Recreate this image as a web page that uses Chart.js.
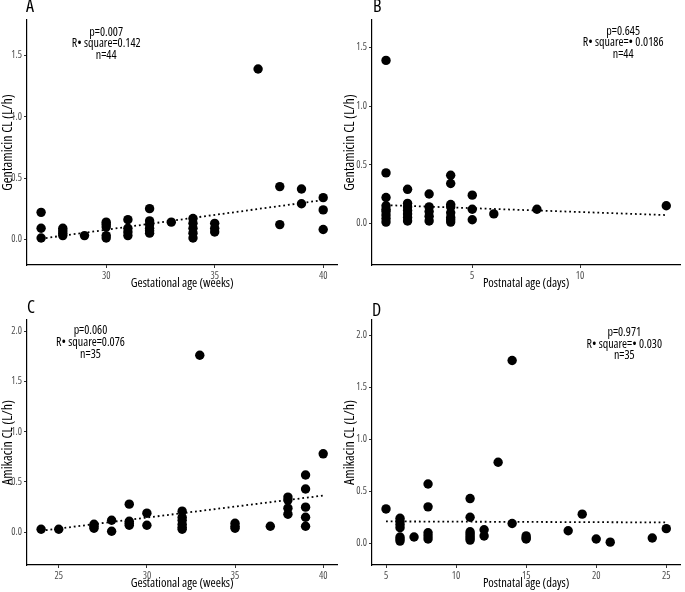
<!DOCTYPE html>
<html>
<head>
<meta charset="utf-8">
<script src="https://cdn.jsdelivr.net/npm/chart.js@4.4.1/dist/chart.umd.min.js"></script>
<style>
  body { margin: 0; background: #fff; width: 685px; height: 592px; position: relative; overflow: hidden;
         font-family: "Open Sans", sans-serif; font-stretch: condensed; }
  .box { position: absolute; }
  .tag { position: absolute; font-size: 18px; line-height: 18px; color: #000; }
</style>
</head>
<body>
<div class="box" style="left:0;top:0"><canvas id="chartA" width="342" height="292"></canvas></div>
<div class="box" style="left:342px;top:0"><canvas id="chartB" width="343" height="292"></canvas></div>
<div class="box" style="left:0;top:292px"><canvas id="chartC" width="342" height="300"></canvas></div>
<div class="box" style="left:342px;top:292px"><canvas id="chartD" width="343" height="300"></canvas></div>
<div class="tag" style="left:26px;top:-4px">A</div>
<div class="tag" style="left:373px;top:-4px">B</div>
<div class="tag" style="left:27px;top:297px">C</div>
<div class="tag" style="left:372px;top:300px">D</div>
<script>
const FONT = '"Open Sans", sans-serif';
const NARROW = 'condensed';   // goes in the weight slot so canvas picks the narrow width

/* --- data: gentamicin vs gestational age (A) --- */
const gaA = [27, 27, 27, 28, 28, 28, 28, 29, 30, 30, 30, 30, 30, 31, 31, 31, 31,
             32, 32, 32, 32, 32, 32, 33, 34, 34, 34, 34, 34, 35, 35, 35, 37, 38, 38, 39, 39, 40, 40, 40];
const clA = [0.22, 0.09, 0.01, 0.09, 0.07, 0.05, 0.03, 0.03, 0.14, 0.12, 0.10, 0.03, 0.01, 0.16, 0.09, 0.06, 0.03,
             0.25, 0.15, 0.12, 0.09, 0.07, 0.05, 0.14, 0.17, 0.13, 0.09, 0.05, 0.01, 0.13, 0.09, 0.06, 1.39, 0.43, 0.12, 0.41, 0.29, 0.34, 0.24, 0.08];
const fitXA = [27, 40];
const fitYA = [0.005, 0.32];

/* --- data: gentamicin vs postnatal age (B) --- */
const pnaB = [1, 1, 1, 1, 1, 1, 1, 1, 1, 2, 2, 2, 2, 2, 2, 2, 3, 3, 3, 3, 3,
              4, 4, 4, 4, 4, 4, 4, 4, 5, 5, 5, 6, 8, 14];
const clB = [1.39, 0.43, 0.22, 0.15, 0.12, 0.10, 0.07, 0.04, 0.01, 0.29, 0.17, 0.14, 0.11, 0.08, 0.05, 0.02,
             0.25, 0.14, 0.10, 0.06, 0.02, 0.41, 0.34, 0.16, 0.14, 0.09, 0.05, 0.03, 0.01, 0.24, 0.12, 0.03, 0.08, 0.12, 0.15];
const fitXB = [1, 14];
const fitYB = [0.155, 0.07];

/* --- data: amikacin vs gestational age (C) --- */
const gaC = [24, 25, 27, 27, 27, 28, 28, 29, 29, 29, 29, 30, 30, 32, 32, 32, 32, 32, 32, 33,
             35, 35, 35, 37, 38, 38, 38, 38, 39, 39, 39, 39, 39, 40];
const clC = [0.03, 0.03, 0.08, 0.06, 0.04, 0.12, 0.01, 0.28, 0.11, 0.09, 0.07, 0.19, 0.07,
             0.21, 0.15, 0.12, 0.08, 0.05, 0.03, 1.76, 0.09, 0.06, 0.04, 0.06,
             0.35, 0.32, 0.24, 0.18, 0.57, 0.43, 0.25, 0.15, 0.06, 0.78];
const fitXC = [24, 40];
const fitYC = [0.015, 0.365];

/* --- data: amikacin vs postnatal age (D) --- */
const pnaD = [5, 6, 6, 6, 6, 6, 6, 6, 7, 8, 8, 8, 8, 8, 11, 11, 11, 11, 11, 11, 11,
              12, 12, 13, 14, 14, 15, 15, 15, 18, 19, 20, 21, 24, 25];
const clD = [0.33, 0.24, 0.21, 0.18, 0.15, 0.06, 0.04, 0.02, 0.06, 0.57, 0.35, 0.10, 0.07, 0.04,
             0.43, 0.25, 0.11, 0.09, 0.07, 0.05, 0.03, 0.13, 0.07, 0.78, 1.76, 0.19,
             0.07, 0.05, 0.04, 0.12, 0.28, 0.04, 0.01, 0.05, 0.14];
const fitXD = [5, 25];
const fitYD = [0.21, 0.20];

const xTicksA = [30, 35, 40];
const xTicksB = [5, 10];
const xTicksC = [25, 30, 35, 40];
const xTicksD = [5, 10, 15, 20, 25];
const yTicksGen = [0, 0.5, 1.0, 1.5];
const yTicksAmi = [0, 0.5, 1.0, 1.5, 2.0];

/* stats text, drawn on the chart */
const noteTool = {
  id: 'note',
  afterDatasetsDraw(chart, args, opts) {
    const { ctx, scales } = chart;
    ctx.save();
    ctx.font = NARROW + ' 12px ' + FONT;
    ctx.fillStyle = '#000';
    ctx.textAlign = 'center';
    ctx.textBaseline = 'middle';
    const px = scales.x.getPixelForValue(opts.x);
    const py = scales.y.getPixelForValue(opts.y);
    opts.lines.forEach((t, i) => ctx.fillText(t, px, py + i * 11.7));
    ctx.restore();
  }
};

function panel(id, xs, ys, fx, fy, p) {
  const pts = xs.map((v, i) => ({ x: v, y: ys[i] }));
  const fit = fx.map((v, i) => ({ x: v, y: fy[i] }));
  return new Chart(document.getElementById(id), {
    type: 'scatter',
    data: {
      datasets: [
        { data: pts, backgroundColor: '#000', borderWidth: 0, pointRadius: 4.7 },
        { type: 'line', data: fit, borderColor: '#000', borderWidth: 1.8, borderDash: [1.8, 2.9],
          pointRadius: 0, fill: false }
      ]
    },
    plugins: [noteTool],
    options: {
      responsive: false,
      animation: false,
      layout: { padding: { top: p.top, right: p.right, left: 0, bottom: 0 } },
      plugins: {
        legend: { display: false },
        tooltip: { enabled: false },
        note: { x: p.noteX, y: p.noteY, lines: p.note }
      },
      scales: {
        x: {
          type: 'linear', min: p.xmin, max: p.xmax,
          afterBuildTicks: s => { s.ticks = p.xticks.map(v => ({ value: v })); },
          afterFit: s => { s.height = 27; },
          grid: { drawOnChartArea: false, tickLength: 3, color: '#333' },
          border: { color: '#000', width: 1.2 },
          ticks: { font: { size: 10, family: FONT, weight: NARROW }, color: '#4d4d4d', padding: 2, maxRotation: 0 },
          title: { display: true, text: p.xtitle, font: { size: 12.5, family: FONT, weight: NARROW }, color: '#000', padding: { top: 0, bottom: 1 } }
        },
        y: {
          type: 'linear', min: p.ymin, max: p.ymax,
          afterBuildTicks: s => { s.ticks = p.yticks.map(v => ({ value: v })); },
          afterFit: s => { s.width = p.yw; },
          grid: { drawOnChartArea: false, tickLength: 3, color: '#333' },
          border: { color: '#000', width: 1.2 },
          ticks: { font: { size: 10, family: FONT, weight: NARROW }, color: '#4d4d4d', padding: 2, callback: v => v.toFixed(1) },
          title: { display: true, text: p.ytitle, font: { size: 14, family: FONT, weight: NARROW }, color: '#000', padding: { top: 0, bottom: 0 } }
        }
      }
    }
  });
}

panel('chartA', gaA, clA, fitXA, fitYA, {
  top: 20, right: 2, yw: 27, xmin: 26.35, xmax: 40.65, ymin: -0.21, ymax: 1.79,
  xticks: xTicksA, yticks: yTicksGen,
  xtitle: 'Gestational age (weeks)', ytitle: 'Gentamicin CL (L/h)',
  noteX: 30, noteY: 1.69, note: ['p=0.007', 'R\u2022 square=0.142', 'n=44']
});

panel('chartB', pnaB, clB, fitXB, fitYB, {
  top: 20, right: 0, yw: 30, xmin: 0.35, xmax: 14.65, ymin: -0.356, ymax: 1.735,
  xticks: xTicksB, yticks: yTicksGen,
  xtitle: 'Postnatal age (days)', ytitle: 'Gentamicin CL (L/h)',
  noteX: 12, noteY: 1.64, note: ['p=0.645', 'R\u2022 square=\u2022 0.0186', 'n=44']
});

panel('chartC', gaC, clC, fitXC, fitYC, {
  top: 28, right: 2, yw: 27, xmin: 23.2, xmax: 40.8, ymin: -0.325, ymax: 2.11,
  xticks: xTicksC, yticks: yTicksAmi,
  xtitle: 'Gestational age (weeks)', ytitle: 'Amikacin CL (L/h)',
  noteX: 26.8, noteY: 2.0, note: ['p=0.060', 'R\u2022 square=0.076', 'n=35']
});

panel('chartD', pnaD, clD, fitXD, fitYD, {
  top: 28, right: 0, yw: 30, xmin: 4, xmax: 26, ymin: -0.21, ymax: 2.15,
  xticks: xTicksD, yticks: yTicksAmi,
  xtitle: 'Postnatal age (days)', ytitle: 'Amikacin CL (L/h)',
  noteX: 22, noteY: 2.03, note: ['p=0.971', 'R\u2022 square=\u2022 0.030', 'n=35']
});
</script>
</body>
</html>
